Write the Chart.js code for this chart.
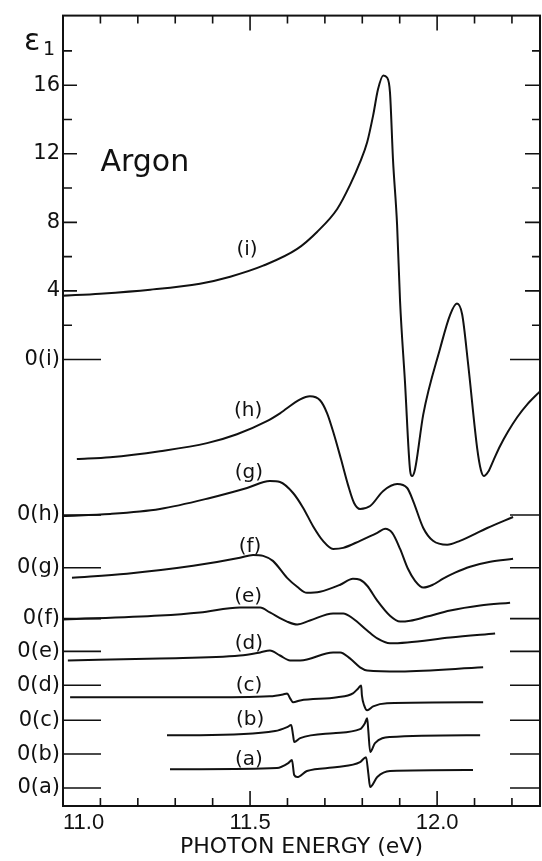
<!DOCTYPE html>
<html>
<head>
<meta charset="utf-8">
<title>Argon eps1</title>
<script src="https://cdn.jsdelivr.net/npm/chart.js@4.4.1/dist/chart.umd.min.js"></script>
<style>
  html, body { margin: 0; padding: 0; background: #fff; }
  #argonChart { display: block; }
</style>
</head>
<body>
<canvas id="argonChart" width="542" height="861"></canvas>
<script>
// Данные: энергия фотона (эВ) и eps1 относительно "своего" нуля каждой кривой
const energyI = [11.000, 11.099, 11.233, 11.366, 11.447, 11.535, 11.626, 11.679, 11.733, 11.767, 11.794, 11.813, 11.829, 11.842, 11.856, 11.866, 11.874, 11.882, 11.893, 11.901, 11.914, 11.928, 11.933, 11.941, 11.963, 12.008, 12.035, 12.053, 12.067, 12.083, 12.107, 12.117, 12.125, 12.136, 12.152, 12.168, 12.190, 12.214, 12.241, 12.275];
const eps1I = [3.72, 3.84, 4.07, 4.42, 4.83, 5.47, 6.45, 7.44, 8.78, 10.17, 11.51, 12.67, 14.24, 15.76, 16.57, 16.45, 15.58, 11.69, 7.85, 3.37, -1.28, -6.51, -6.80, -6.40, -3.20, 0.64, 2.62, 3.26, 2.62, -0.29, -5.17, -6.45, -6.80, -6.57, -5.81, -5.06, -4.19, -3.37, -2.62, -1.86];

const energyH = [11.037, 11.126, 11.259, 11.385, 11.465, 11.545, 11.580, 11.634, 11.660, 11.687, 11.706, 11.725, 11.743, 11.762, 11.778, 11.794, 11.821, 11.856, 11.893, 11.920, 11.936, 11.963, 11.989, 12.027, 12.061, 12.134, 12.203];
const eps1H = [3.26, 3.37, 3.72, 4.19, 4.71, 5.47, 5.93, 6.74, 6.92, 6.69, 5.93, 4.65, 3.26, 1.74, 0.70, 0.35, 0.52, 1.40, 1.80, 1.57, 0.81, -0.76, -1.51, -1.74, -1.51, -0.76, -0.12];

const energyG = [11.000, 11.126, 11.259, 11.393, 11.492, 11.553, 11.580, 11.615, 11.642, 11.668, 11.695, 11.722, 11.749, 11.794, 11.840, 11.861, 11.880, 11.901, 11.922, 11.941, 11.963, 11.989, 12.016, 12.048, 12.088, 12.142, 12.203];
const eps1G = [3.02, 3.14, 3.43, 4.07, 4.65, 5.06, 5.00, 4.36, 3.49, 2.44, 1.57, 1.10, 1.16, 1.57, 2.03, 2.27, 2.03, 1.10, -0.06, -0.76, -1.16, -0.99, -0.64, -0.29, 0.06, 0.35, 0.52];

const energyF = [11.024, 11.171, 11.348, 11.473, 11.508, 11.535, 11.561, 11.599, 11.626, 11.652, 11.687, 11.741, 11.775, 11.794, 11.813, 11.840, 11.874, 11.901, 11.928, 11.973, 12.035, 12.115, 12.195];
const eps1F = [2.38, 2.62, 3.08, 3.55, 3.72, 3.66, 3.37, 2.38, 1.86, 1.51, 1.57, 1.98, 2.33, 2.27, 1.92, 1.05, 0.17, -0.17, -0.12, 0.12, 0.47, 0.76, 0.93];

const energyE = [11.000, 11.259, 11.366, 11.473, 11.527, 11.553, 11.599, 11.626, 11.660, 11.722, 11.749, 11.775, 11.813, 11.840, 11.874, 11.920, 12.035, 12.155];
const eps1E = [1.86, 2.09, 2.27, 2.56, 2.56, 2.27, 1.74, 1.57, 1.80, 2.21, 2.21, 1.92, 1.22, 0.76, 0.47, 0.52, 0.81, 1.05];

const energyD = [11.013, 11.259, 11.473, 11.527, 11.553, 11.580, 11.607, 11.634, 11.722, 11.741, 11.767, 11.794, 11.813, 11.901, 12.123];
const eps1D = [1.45, 1.57, 1.74, 1.92, 2.03, 1.74, 1.45, 1.45, 1.92, 1.92, 1.57, 1.05, 0.87, 0.81, 1.05];

const energyC = [11.019, 11.366, 11.553, 11.588, 11.599, 11.607, 11.615, 11.634, 11.733, 11.775, 11.789, 11.797, 11.799, 11.805, 11.813, 11.829, 11.866, 12.123];
const eps1C = [1.34, 1.34, 1.40, 1.51, 1.57, 1.28, 1.05, 1.16, 1.34, 1.57, 1.86, 2.03, 1.45, 0.87, 0.58, 0.81, 0.99, 1.05];

const energyB = [11.278, 11.366, 11.567, 11.599, 11.610, 11.615, 11.618, 11.634, 11.722, 11.794, 11.807, 11.813, 11.816, 11.821, 11.834, 11.874, 12.115];
const eps1B = [1.10, 1.10, 1.34, 1.57, 1.69, 1.10, 0.70, 0.93, 1.22, 1.45, 1.80, 2.09, 1.40, 0.12, 0.64, 0.99, 1.10];

const energyA = [11.286, 11.366, 11.572, 11.602, 11.612, 11.618, 11.626, 11.652, 11.733, 11.794, 11.810, 11.816, 11.821, 11.840, 11.874, 12.096];
const eps1A = [1.10, 1.10, 1.16, 1.45, 1.63, 0.76, 0.64, 0.99, 1.22, 1.51, 1.80, 0.87, 0.06, 0.64, 0.99, 1.05];

// кривые сдвинуты вниз: ноль каждой кривой в единицах оси eps1 (i)
const curveNames = ['i', 'h', 'g', 'f', 'e', 'd', 'c', 'b', 'a'];
const zeroShift = [0, -9.07, -12.15, -15.12, -17.03, -19.01, -21.05, -23.02, -25.0];
const energyAll = [energyI, energyH, energyG, energyF, energyE, energyD, energyC, energyB, energyA];
const eps1All = [eps1I, eps1H, eps1G, eps1F, eps1E, eps1D, eps1C, eps1B, eps1A];

// подписи кривых (где стоят "(i)", "(h)" ...)
const labelEnergy = [11.492, 11.495, 11.497, 11.500, 11.495, 11.497, 11.497, 11.500, 11.497];
const labelEps1 = [6.40, 6.10, 5.52, 4.19, 3.19, 2.44, 2.04, 1.97, 1.63];

// деления осей
const xTicks = [11.0, 11.1, 11.2, 11.3, 11.4, 11.5, 11.6, 11.7, 11.8, 11.9, 12.0, 12.1, 12.2];
const xTickLabels = ['11.0', '', '', '', '', '11.5', '', '', '', '', '12.0', '', ''];
const yTicks = [18, 16, 14, 12, 10, 8, 6, 4, 2].concat(zeroShift);
const yTickLabels = ['', '16', '', '12', '', '8', '', '4', ''].concat(curveNames.map(n => '0(' + n + ')'));

const INK = '#111';

// засечки внутрь рамки, нулевые линии, подписи
const figureMarks = {
  id: 'figureMarks',
  afterDraw(chart) {
    const { ctx, chartArea: a, scales: { x, y } } = chart;
    ctx.save();
    ctx.strokeStyle = INK;
    ctx.lineWidth = 2;
    ctx.strokeRect(a.left, a.top, a.right - a.left, a.bottom - a.top);

    ctx.lineWidth = 1.6;
    ctx.beginPath();
    yTicks.forEach((v, k) => {
      const py = y.getPixelForValue(v);
      const lab = yTickLabels[k];
      let lenL = 9, lenR = 8;
      if (lab.startsWith('0(')) { lenL = 38; lenR = 30; }
      else if (lab) { lenL = 14; lenR = 15; }
      ctx.moveTo(a.left, py); ctx.lineTo(a.left + lenL, py);
      ctx.moveTo(a.right, py); ctx.lineTo(a.right - lenR, py);
    });
    xTicks.forEach((v, k) => {
      const px = x.getPixelForValue(v);
      const len = xTickLabels[k] ? 15 : 8;
      ctx.moveTo(px, a.bottom); ctx.lineTo(px, a.bottom - len);
      ctx.moveTo(px, a.top); ctx.lineTo(px, a.top + len);
    });
    ctx.stroke();

    ctx.fillStyle = INK;
    ctx.font = '20px "DejaVu Sans"';
    ctx.textAlign = 'center';
    ctx.textBaseline = 'middle';
    curveNames.forEach((n, k) => {
      ctx.fillText('(' + n + ')', x.getPixelForValue(labelEnergy[k]), y.getPixelForValue(labelEps1[k] + zeroShift[k]));
    });

    ctx.textAlign = 'left';
    ctx.textBaseline = 'alphabetic';
    ctx.font = '30px "DejaVu Sans"';
    ctx.fillText('Argon', x.getPixelForValue(11.1), y.getPixelForValue(11.0));

    ctx.font = '30px "DejaVu Sans"';
    ctx.fillText('\u03b5', a.left - 39, a.top + 34);
    ctx.font = '19px "DejaVu Sans"';
    ctx.fillText('1', a.left - 20, a.top + 39);
    ctx.restore();
  }
};

const datasets = curveNames.map((n, k) => ({
  label: '(' + n + ')',
  data: energyAll[k].map((e, j) => ({ x: e, y: eps1All[k][j] + zeroShift[k] })),
  borderColor: INK,
  borderWidth: 2,
  pointRadius: 0,
  fill: false,
  cubicInterpolationMode: 'monotone'
}));

Chart.defaults.font.family = '"DejaVu Sans", sans-serif';
Chart.defaults.color = INK;

new Chart(document.getElementById('argonChart'), {
  type: 'line',
  data: { datasets },
  options: {
    responsive: false,
    animation: false,
    devicePixelRatio: 1,
    layout: { padding: { top: 13, right: 2, left: 0, bottom: 0 } },
    plugins: {
      legend: { display: false },
      tooltip: { enabled: false }
    },
    scales: {
      x: {
        type: 'linear',
        min: 11.0,
        max: 12.275,
        grid: { display: false, drawTicks: false },
        border: { display: false },
        afterBuildTicks: s => { s.ticks = xTicks.map(v => ({ value: v })); },
        afterFit: s => { s.height = 55; },
        ticks: {
          autoSkip: false,
          maxRotation: 0,
          align: 'inner',
          padding: 4,
          font: { size: 22, family: '"Liberation Sans", sans-serif' },
          callback: (v, i) => xTickLabels[i]
        },
        title: {
          display: true,
          text: 'PHOTON ENERGY (eV)',
          font: { size: 22 },
          padding: { top: 0, bottom: 1 }
        }
      },
      y: {
        type: 'linear',
        min: -26.05,
        max: 20.06,
        grid: { display: false, drawTicks: false },
        border: { display: false },
        afterBuildTicks: s => { s.ticks = yTicks.map(v => ({ value: v })); },
        afterFit: s => { s.width = 63; },
        ticks: {
          autoSkip: false,
          padding: 3,
          font: { size: 21 },
          callback: (v, i) => yTickLabels[i]
        }
      }
    }
  },
  plugins: [figureMarks]
});
</script>
</body>
</html>
